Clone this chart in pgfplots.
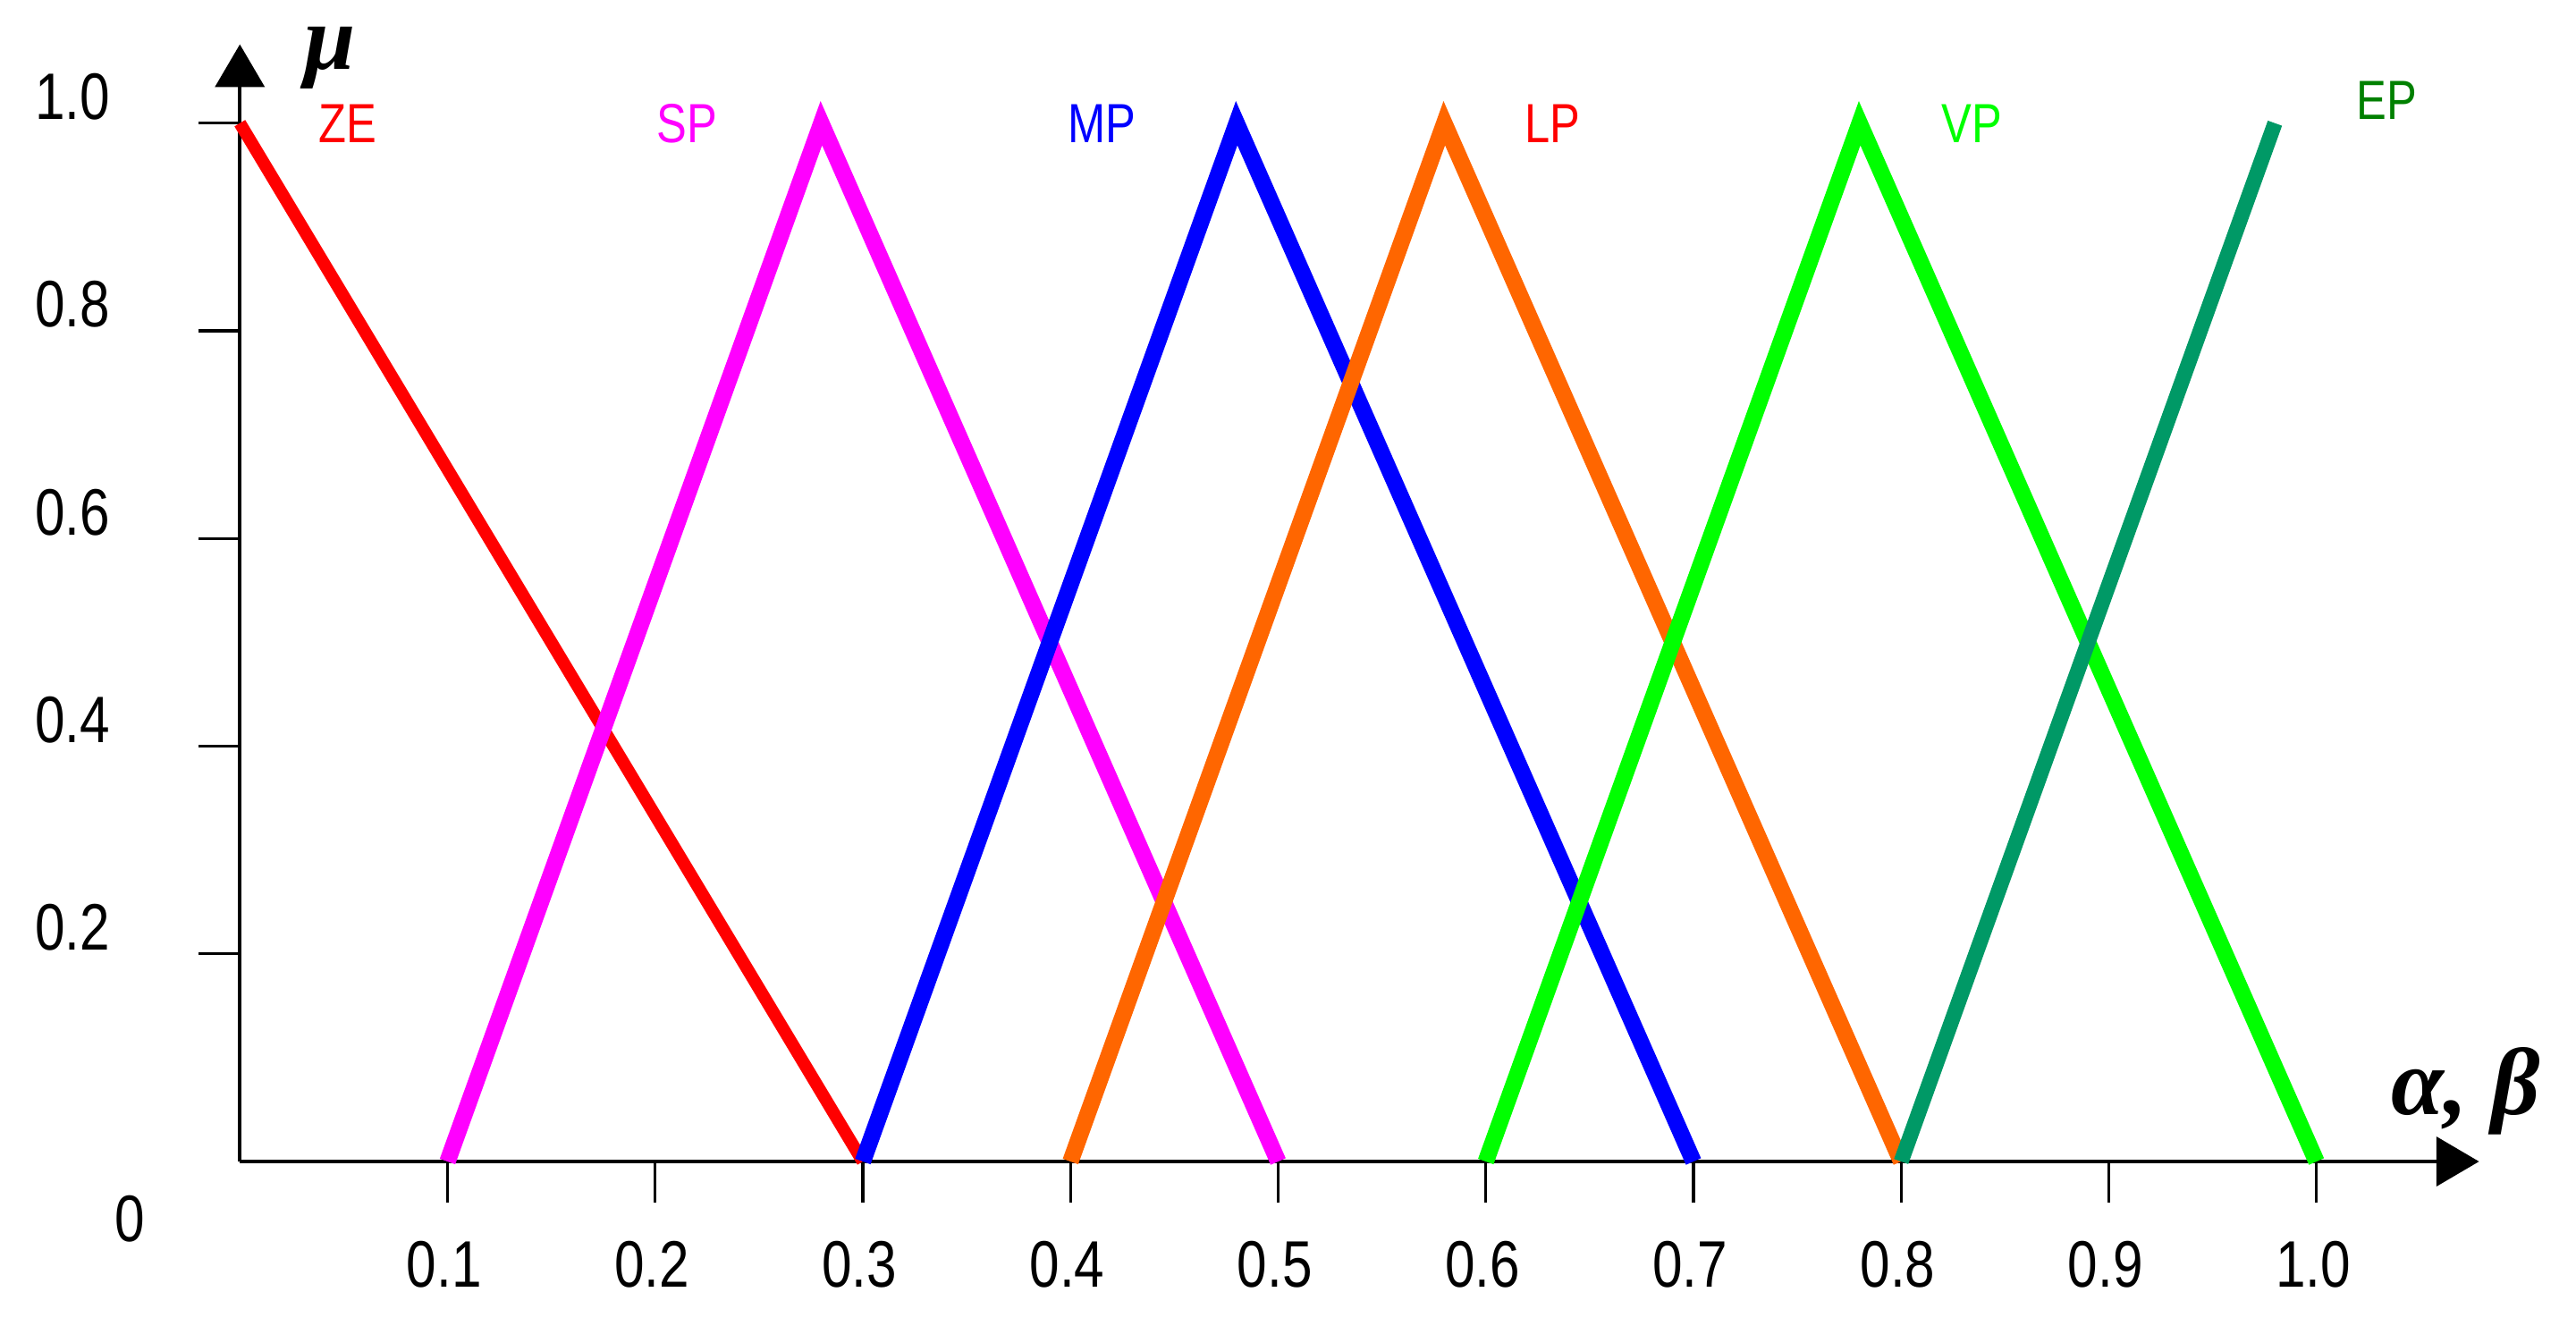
\documentclass[border=0pt]{standalone}
\usepackage{fontspec}
\setmainfont{Liberation Sans}
\newfontfamily\narrowfont{Liberation Sans}[FakeStretch=0.82]
\newfontfamily\greekfont{Liberation Serif}
\usepackage{pgfplots}
\pgfplotsset{compat=1.18}
\usetikzlibrary{arrows.meta}

\definecolor{zecol}{RGB}{255,0,0}
\definecolor{spcol}{RGB}{255,0,255}
\definecolor{mpcol}{RGB}{0,0,255}
\definecolor{lpcol}{RGB}{255,102,0}
\definecolor{vpcol}{RGB}{0,255,0}
\definecolor{epcol}{RGB}{0,153,102}
\definecolor{eptext}{RGB}{0,128,0}

\begin{document}
\begin{tikzpicture}
  \begin{axis}[
      scale only axis,
      width=340.75pt, height=170pt,
      xmin=0, xmax=1.0783, ymin=0, ymax=1.0759,
      enlargelimits=false,
      axis lines=left,
      clip=false,
      axis line style={black, line width=0.5pt, -{Triangle[length=6.5pt,width=7.5pt]}},
      tick align=outside,
      major tick length=6.25pt,
      tick style={black, line width=0.45pt},
      xtick={0.1,0.2,0.3,0.4,0.5,0.6,0.7,0.8,0.9,1.0},
      xticklabels={0.1,0.2,0.3,0.4,0.5,0.6,0.7,0.8,0.9,1.0},
      ytick={0.2,0.4,0.6,0.8,1.0},
      yticklabels={0.2,0.4,0.6,0.8,1.0},
      tick label style={font=\narrowfont\fontsize{10}{12}\selectfont},
      xticklabel style={anchor=north, yshift=-2.4pt, xshift=-0.5pt},
      yticklabel style={anchor=east, xshift=-10pt, yshift=4pt},
    ]
    % ZE
    \addplot[zecol, line width=1.9pt] coordinates {(0,1) (0.3,0)};
    % SP
    \addplot[spcol, line width=2.5pt] coordinates {(0.1,0) (0.28,1) (0.5,0)};
    % MP
    \addplot[mpcol, line width=2.5pt] coordinates {(0.3,0) (0.48,1) (0.7,0)};
    % LP
    \addplot[lpcol, line width=2.5pt] coordinates {(0.4,0) (0.58,1) (0.8,0)};
    % VP
    \addplot[vpcol, line width=2.5pt] coordinates {(0.6,0) (0.78,1) (1.0,0)};
    % EP
    \addplot[epcol, line width=2.3pt] coordinates {(0.8,0) (0.98,1)};

    \begin{scope}[font=\narrowfont\fontsize{8.4}{10}\selectfont]
      \node[text=zecol] at (axis cs:0.052,1.0) {ZE};
      \node[text=spcol] at (axis cs:0.2155,1.0) {SP};
      \node[text=mpcol] at (axis cs:0.415,1.0) {MP};
      \node[text=zecol] at (axis cs:0.632,1.0) {LP};
      \node[text=vpcol] at (axis cs:0.834,1.0) {VP};
      \node[text=eptext] at (axis cs:1.034,1.022) {EP};
    \end{scope}

    \node[font=\narrowfont\fontsize{10}{12}\selectfont] at (axis cs:-0.053,-0.055) {0};
    \node[font=\greekfont\bfseries\itshape\fontsize{14}{16}\selectfont] at (axis cs:0.0435,1.063) {μ};
    \node[font=\greekfont\bfseries\itshape\fontsize{14.5}{16}\selectfont] at (axis cs:1.072,0.068) {α, β};
  \end{axis}
  \path (-36.5pt,-25pt) rectangle (355.5pt,176.75pt);
\end{tikzpicture}
\end{document}
